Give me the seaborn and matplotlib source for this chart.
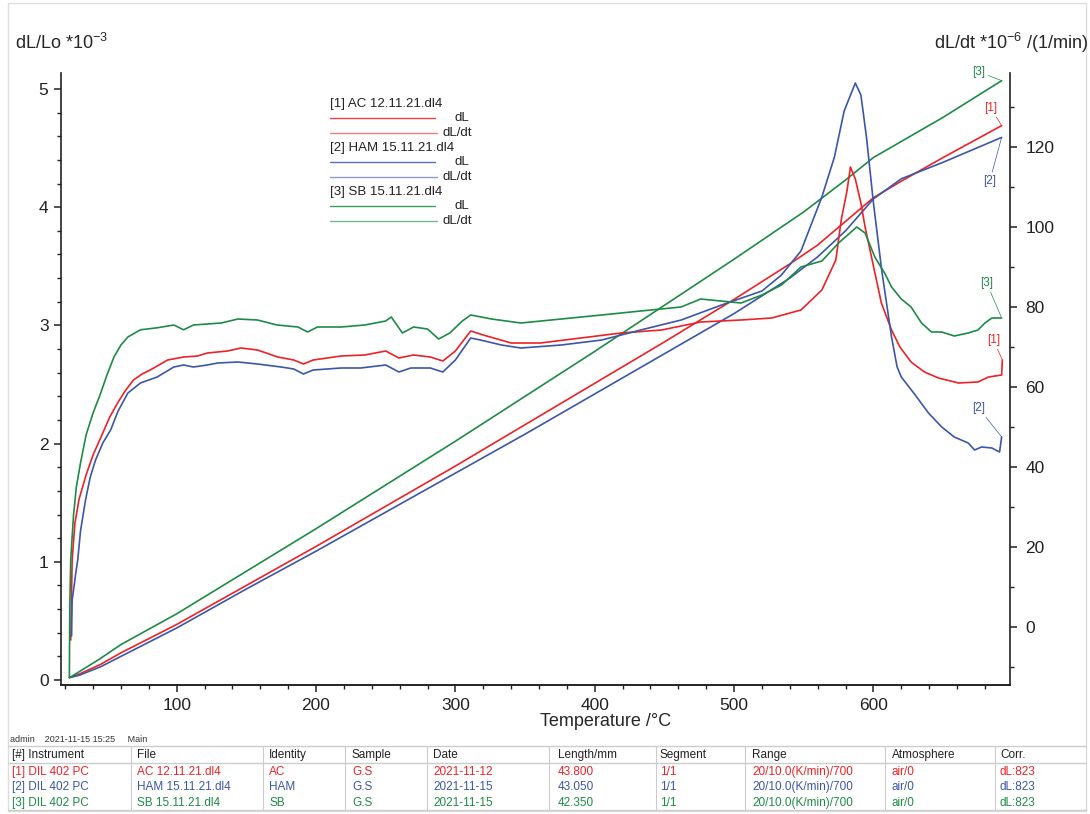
import matplotlib.pyplot as plt
import seaborn as sns
import pandas as pd
from matplotlib.lines import Line2D
from matplotlib.patches import Rectangle
from matplotlib.ticker import MultipleLocator

# dL/Lo *10^-3 curves (left axis)
T_dl_ac = [23, 30, 45, 60, 80, 100, 150, 200, 250, 300, 350, 400, 450, 500, 540, 560, 580, 600, 620, 650, 692]
dl_ac = [0.02, 0.05, 0.13, 0.23, 0.35, 0.47, 0.80, 1.13, 1.47, 1.81, 2.16, 2.51, 2.86, 3.22, 3.52, 3.68, 3.88, 4.08, 4.22, 4.42, 4.69]
T_dl_ham = [23, 30, 45, 60, 80, 100, 150, 200, 250, 300, 350, 400, 450, 500, 540, 560, 580, 600, 620, 650, 692]
dl_ham = [0.02, 0.04, 0.11, 0.20, 0.32, 0.44, 0.77, 1.09, 1.42, 1.75, 2.08, 2.42, 2.76, 3.10, 3.40, 3.58, 3.80, 4.07, 4.24, 4.38, 4.59]
T_dl_sb = [23, 30, 45, 60, 80, 100, 150, 200, 250, 300, 350, 400, 450, 500, 550, 580, 600, 650, 692]
dl_sb = [0.02, 0.07, 0.18, 0.30, 0.43, 0.56, 0.92, 1.28, 1.65, 2.02, 2.40, 2.78, 3.17, 3.56, 3.96, 4.23, 4.42, 4.76, 5.07]

# dL/dt *10^-6 /(1/min) curves (right axis)
T_dt_ac = [24, 25, 27, 30, 35, 40, 47.6, 52, 57.6, 63, 69, 75, 81, 93.5, 105, 115, 122, 136.6, 146, 158, 172.5, 184, 191, 198,
           218, 235, 250, 259.5, 270, 282, 291, 300, 311, 320, 340, 361, 390, 419, 448, 476, 505, 527, 548, 563,
           573, 577, 581, 583.5, 587, 591, 594, 598.6, 605.7, 613, 619, 627, 636.6, 646.7, 661, 675, 682.6, 692, 692.5]
dt_ac = [-3.25, 16.75, 26, 32, 38, 43, 49, 52.5, 56, 59, 61.75, 63.2, 64.25, 66.75, 67.5, 67.75, 68.5, 69, 69.75, 69.25, 67.5, 66.75, 65.75, 66.75,
         67.75, 68, 69, 67.25, 68, 67.5, 66.5, 69, 74, 73, 71, 71, 72.25, 73.5, 74.25, 76.25, 76.75, 77.25, 79.25, 84.25,
         91.75, 102, 109, 115, 112, 106, 100, 92.5, 81, 74.25, 70, 66.25, 63.75, 62.25, 61, 61.25, 62.5, 63, 66.75]
T_dt_ham = [24.6, 25, 26.7, 27.4, 29, 31, 34.6, 38, 41.8, 47, 52.6, 58, 65, 74, 86, 98, 105, 112, 122, 129.5, 144, 158, 175, 184,
            191, 198, 218, 232, 250, 259.5, 268, 282, 291, 300, 311, 318, 333, 347, 376, 405, 433, 462, 491, 520,
            534, 548, 563, 572, 579, 587, 591, 595, 600, 606, 613, 617, 620, 630, 639.5, 649, 658, 668, 672.6, 677.6,
            685, 690.5, 692]
dt_ham = [-2.25, 6.75, 11, 13, 16.75, 24, 31.75, 37.5, 41.75, 46, 49.25, 54, 58.5, 61, 62.5, 65, 65.5, 65, 65.5, 66, 66.25, 65.75, 65, 64.5,
          63.25, 64.25, 64.75, 64.75, 65.5, 63.75, 64.75, 64.75, 63.75, 66.75, 72.25, 71.75, 70.5, 69.75, 70.5, 71.75, 74.25, 76.75, 80.5, 84,
          88, 94, 107.5, 117.5, 129, 136, 133, 122.5, 106, 89, 72.5, 65, 62.5, 58, 53.5, 50, 47.5, 46, 44.25, 45,
          44.75, 43.75, 47.5]
T_dt_sb = [23, 23.3, 24, 26, 28, 31, 35, 40, 45, 50, 55, 60, 65, 74, 86, 98, 105, 112, 132, 144, 158, 172, 187, 194,
           201, 218, 235, 250, 254, 262, 270, 280, 288, 296, 305, 311, 326, 347, 376, 405, 433, 462, 476, 505,
           520, 534, 548, 563, 575, 588, 594, 601, 608, 613, 620, 627, 634.5, 641.7, 649, 658, 668, 675, 680, 685, 692]
dt_sb = [-12.5, 5, 17, 28, 35, 41, 48, 53.5, 58, 63, 67.5, 70.5, 72.5, 74.3, 74.8, 75.5, 74.3, 75.5, 76, 77, 76.75, 75.5, 75, 73.75,
         75, 75, 75.5, 76.5, 77.5, 73.5, 75, 74.5, 72, 73.5, 76.5, 78, 77, 76, 77, 78, 79, 80, 82, 81,
         83, 85.5, 90, 91.5, 96, 100, 98.5, 92.5, 88.5, 85, 82, 80, 76, 73.75, 73.75, 72.75, 73.5, 74.25, 76, 77.25, 77.25]

labels = ["[1]", "[2]", "[3]"]
files = ["[1] AC 12.11.21.dl4", "[2] HAM 15.11.21.dl4", "[3] SB 15.11.21.dl4"]

header = ["[#] Instrument", "File", "Identity", "Sample", "Date", "Length/mm", "Segment", "Range", "Atmosphere", "Corr."]
table_rows = [
    ["[1] DIL 402 PC", "AC 12.11.21.dl4", "AC", "G.S", "2021-11-12", "43.800", "1/1", "20/10.0(K/min)/700", "air/0", "dL:823"],
    ["[2] DIL 402 PC", "HAM 15.11.21.dl4", "HAM", "G.S", "2021-11-15", "43.050", "1/1", "20/10.0(K/min)/700", "air/0", "dL:823"],
    ["[3] DIL 402 PC", "SB 15.11.21.dl4", "SB", "G.S", "2021-11-15", "42.350", "1/1", "20/10.0(K/min)/700", "air/0", "dL:823"],
]

RED, BLUE, GREEN = "#ec2227", "#3c56a8", "#1d8b45"
colors = [RED, BLUE, GREEN]

sns.set_style("ticks")
plt.rcParams["font.family"] = ["Liberation Sans", "DejaVu Sans"]
plt.rcParams["mathtext.fontset"] = "custom"
plt.rcParams["mathtext.rm"] = "Liberation Sans"

W, H = 1090, 814
fig = plt.figure(figsize=(W / 100, H / 100), dpi=100)


def fx(x):
    return x / W


def fy(y):
    return 1 - y / H


ax = fig.add_axes([fx(61), fy(685), (1010 - 61) / W, (685 - 73) / H])
ax2 = ax.twinx()

dl_sets = [(T_dl_ac, dl_ac), (T_dl_ham, dl_ham), (T_dl_sb, dl_sb)]
dt_sets = [(T_dt_ac, dt_ac), (T_dt_ham, dt_ham), (T_dt_sb, dt_sb)]

for (t, v), c in zip(dl_sets, colors):
    d = pd.DataFrame({"T": t, "v": v})
    sns.lineplot(data=d, x="T", y="v", ax=ax, color=c, lw=1.2, sort=False, estimator=None)
for (t, v), c in zip(dt_sets, colors):
    d = pd.DataFrame({"T": t, "v": v})
    sns.lineplot(data=d, x="T", y="v", ax=ax2, color=c, lw=1.2, sort=False, estimator=None)

ax.set_xlim(17, 698)
ax.set_ylim(-0.042, 5.135)
ax2.set_ylim(-14.5, 138.5)

ax.xaxis.set_major_locator(MultipleLocator(100))
ax.xaxis.set_minor_locator(MultipleLocator(20))
ax.yaxis.set_major_locator(MultipleLocator(1))
ax.yaxis.set_minor_locator(MultipleLocator(0.2))
ax2.yaxis.set_major_locator(MultipleLocator(20))
ax2.yaxis.set_minor_locator(MultipleLocator(10))

for a in (ax, ax2):
    a.spines["top"].set_visible(False)
    for s in a.spines.values():
        s.set_color("#222222")
        s.set_linewidth(1.2)
    a.tick_params(which="major", direction="out", length=5, width=1.1, labelsize=12.5, pad=4, colors="#222222")
    a.tick_params(which="minor", direction="out", length=3, width=1.0, colors="#222222")
    a.set_ylabel("")
ax.spines["right"].set_visible(False)
ax2.spines["left"].set_visible(False)
ax2.tick_params(axis="y", pad=6)
ax.set_xlabel("Temperature /°C", fontsize=13)
ax.xaxis.set_label_coords((606 - 61) / (1010 - 61), -(722 - 685) / (685 - 73))
ax.xaxis.label.set_va("center")

fig.text(fx(15), fy(43), "dL/Lo *10$^{\\mathregular{-3}}$", fontsize=13, va="center", ha="left")
fig.text(fx(1088), fy(43), "dL/dt *10$^{\\mathregular{-6}}$ /(1/min)", fontsize=13, va="center", ha="right")

# curve end labels
dl_off = [(-11, 18), (-12, -44), (-23, 9)]
dt_off = [(-9, 20), (-23, 29), (-15, 35)]
for (t, v), c, lab, off in zip(dl_sets, colors, labels, dl_off):
    ax.annotate(lab, xy=(t[-1], v[-1]), xytext=off, textcoords="offset pixels", fontsize=8.5, color=c,
                ha="center", va="center", arrowprops=dict(arrowstyle="-", lw=0.5, color=c, shrinkA=0, shrinkB=0))
for (t, v), c, lab, off in zip(dt_sets, colors, labels, dt_off):
    ax2.annotate(lab, xy=(t[-1], v[-1]), xytext=off, textcoords="offset pixels", fontsize=8.5, color=c,
                 ha="center", va="center", arrowprops=dict(arrowstyle="-", lw=0.5, color=c, shrinkA=0, shrinkB=0))

# legend block
for i, (name, c) in enumerate(zip(files, colors)):
    y0 = 104 + i * 44
    fig.text(fx(330), fy(y0), name, fontsize=9.5, va="center", ha="left", color="#222222")
    fig.add_artist(Line2D([fx(330), fx(435)], [fy(y0 + 14), fy(y0 + 14)], color=c, lw=1.0, alpha=0.85,
                          transform=fig.transFigure))
    fig.text(fx(469), fy(y0 + 14), "dL", fontsize=9.5, va="center", ha="right", color="#222222")
    fig.add_artist(Line2D([fx(330), fx(437)], [fy(y0 + 29), fy(y0 + 29)], color=c, lw=1.0, alpha=0.6,
                          transform=fig.transFigure))
    fig.text(fx(472), fy(y0 + 29), "dL/dt", fontsize=9.5, va="center", ha="right", color="#222222")

# info table
grey = "#cccccc"
fig.add_artist(Rectangle((fx(8), fy(811)), (1086 - 8) / W, (811 - 3) / H, transform=fig.transFigure,
                         fill=False, ec="#dddddd", lw=1.0))
fig.text(fx(10), fy(739), "admin    2021-11-15 15:25     Main", fontsize=6.5, va="center", ha="left", color="#333333")
for yy in (746, 763, 810):
    fig.add_artist(Line2D([fx(8), fx(1086)], [fy(yy), fy(yy)], color=grey, lw=1.0, transform=fig.transFigure))
for xx in (131, 263, 345, 427, 549, 656, 745, 885, 995):
    fig.add_artist(Line2D([fx(xx), fx(xx)], [fy(746), fy(810)], color=grey, lw=0.8, transform=fig.transFigure))
col_x = [12, 137, 269, 352, 433, 558, 660, 752, 892, 1000]
row_y = [772, 787, 803]
for h, xx in zip(header, col_x):
    fig.text(fx(xx), fy(755), h, fontsize=8.5, va="center", ha="left", color="#222222")
for row, yy, c in zip(table_rows, row_y, colors):
    for val, xx in zip(row, col_x):
        fig.text(fx(xx), fy(yy), val, fontsize=8.5, va="center", ha="left", color=c)

fig.savefig("out.png", dpi=100, facecolor="white")
